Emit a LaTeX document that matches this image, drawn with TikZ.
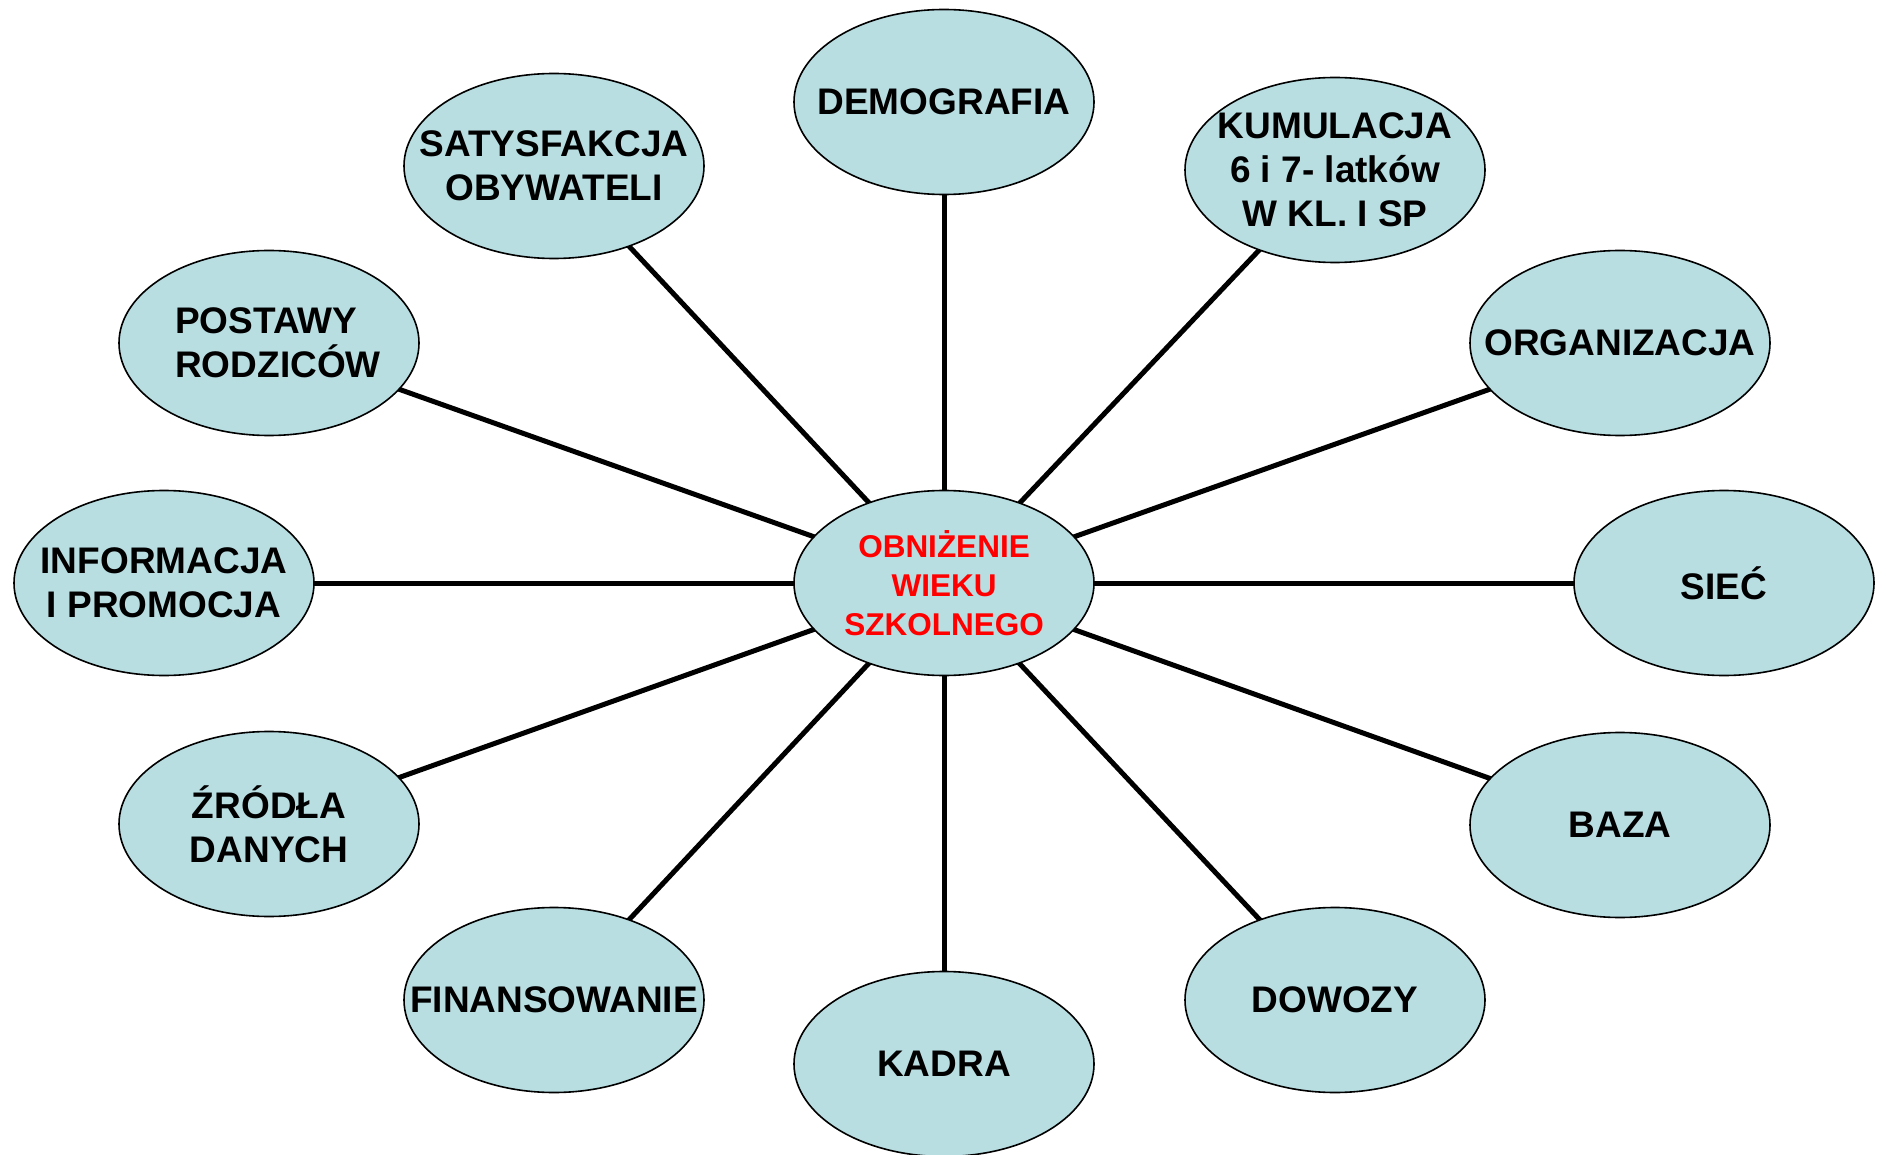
\documentclass[tikz,border=0pt]{standalone}
\usepackage{fontspec}
\setmainfont{Liberation Sans}
\usetikzlibrary{shapes.geometric,backgrounds}
\definecolor{bubblefill}{RGB}{184,222,226}
\definecolor{centerred}{RGB}{255,0,0}
\tikzset{
  bubble/.style={ellipse, draw=black, line width=1.6pt, fill=bubblefill,
    minimum width=300pt, minimum height=185pt, inner sep=0pt},
  txt/.style={align=center, inner sep=0pt, text=black,
    font=\fontsize{37}{44}\selectfont\bfseries},
  ctxt/.style={align=center, inner sep=0pt, text=centerred,
    font=\fontsize{31.5}{39}\selectfont\bfseries},
  spoke/.style={line width=5pt, draw=black}
}
\begin{document}
\begin{tikzpicture}[x=1pt,y=-1pt]
\useasboundingbox (0,0) rectangle (1877,1155);
\node[bubble, label={[ctxt]center:{OBNIŻENIE\\WIEKU\\SZKOLNEGO}}] (c) at (944,583) {};
\node[bubble, label={[txt]center:{DEMOGRAFIA}}] (demo) at (944,102) {};
\node[bubble, label={[txt]center:{SATYSFAKCJA\\OBYWATELI}}] (saty) at (554,166) {};
\node[bubble, label={[txt]center:{KUMULACJA\\6 i 7- latków\\W KL. I SP}}] (kumu) at (1335,170) {};
\node[bubble, label={[txt]center:{ORGANIZACJA}}] (org) at (1620,343) {};
\node[bubble, label={[txt]center:{SIEĆ}}] (siec) at (1724,583) {};
\node[bubble, label={[txt]center:{BAZA}}] (baza) at (1620,825) {};
\node[bubble, label={[txt]center:{DOWOZY}}] (dow) at (1335,1000) {};
\node[bubble, label={[txt]center:{KADRA}}] (kadra) at (944,1064) {};
\node[bubble, label={[txt]center:{FINANSOWANIE}}] (fin) at (554,1000) {};
\node[bubble, label={[txt]center:{ŹRÓDŁA\\DANYCH}}] (zrod) at (269,824) {};
\node[bubble, label={[txt]center:{INFORMACJA\\I PROMOCJA}}] (inf) at (164,583) {};
\node[bubble, label={[txt, align=left, xshift=9pt]center:{POSTAWY\\RODZICÓW}}] (post) at (269,343) {};
\begin{scope}[on background layer]
\foreach \n in {demo,saty,kumu,org,siec,baza,dow,kadra,fin,zrod,inf,post}
  \draw[spoke] (c.center) -- (\n.center);
\end{scope}
\end{tikzpicture}
\end{document}
